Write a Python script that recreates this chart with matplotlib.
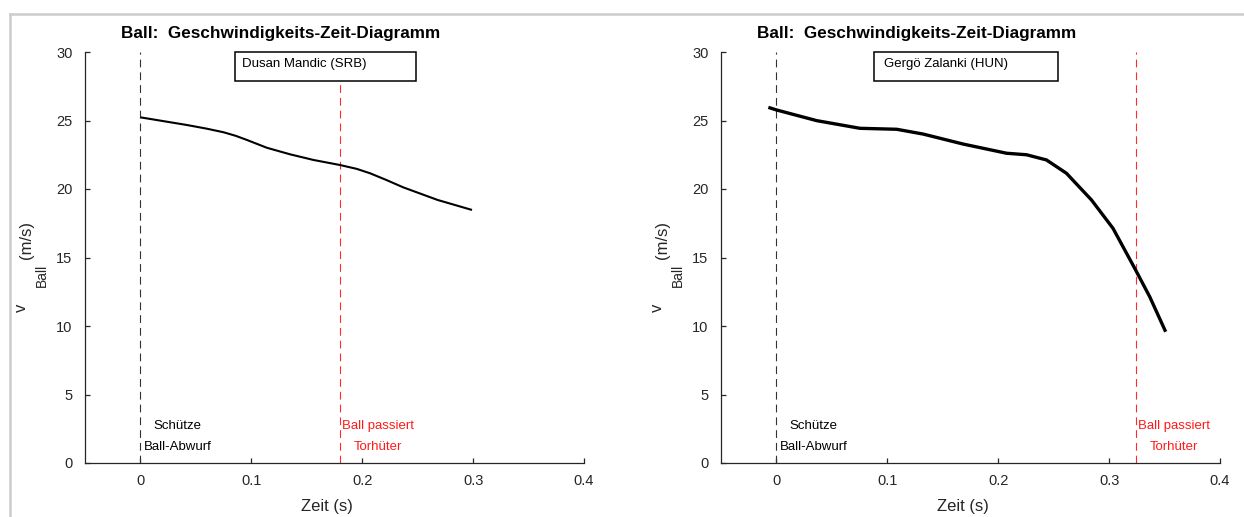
import matplotlib
matplotlib.use("Agg")
import matplotlib.pyplot as plt
from matplotlib.patches import Rectangle
from matplotlib.lines import Line2D
from matplotlib.transforms import offset_copy

plt.rcParams["font.family"] = ["Liberation Sans", "DejaVu Sans"]

# ---- data -------------------------------------------------------------
title = "Ball:  Geschwindigkeits-Zeit-Diagramm"
players = ["Dusan Mandic (SRB)", "Gergö Zalanki (HUN)"]

t_mandic = [0.0, 0.021, 0.042, 0.060, 0.075, 0.086, 0.096, 0.114, 0.135, 0.156,
            0.180, 0.195, 0.207, 0.222, 0.237, 0.268, 0.299]
v_mandic = [25.23, 24.95, 24.67, 24.40, 24.14, 23.88, 23.58, 23.01, 22.53, 22.12,
            21.75, 21.47, 21.15, 20.65, 20.12, 19.20, 18.47]

t_zalanki = [-0.0073, 0.0, 0.0363, 0.0753, 0.1084, 0.1323, 0.1684, 0.2075,
             0.2255, 0.2435, 0.2615, 0.2841, 0.3035, 0.3231, 0.3366, 0.3510]
v_zalanki = [25.96, 25.77, 24.99, 24.43, 24.36, 24.01, 23.28, 22.61,
             22.50, 22.12, 21.15, 19.20, 17.13, 14.21, 12.14, 9.58]

# moment the ball passes the goalkeeper (s)
t_pass = [0.1803, 0.3238]
t_release = 0.0

x_ticks = [0, 0.1, 0.2, 0.3, 0.4]
x_ticklabels = ["0", "0.1", "0.2", "0.3", "0.4"]
y_ticks = [0, 5, 10, 15, 20, 25, 30]
y_ticklabels = ["0", "5", "10", "15", "20", "25", "30"]

series = [(t_mandic, v_mandic, 1.5), (t_zalanki, v_zalanki, 2.4)]

# ---- figure -----------------------------------------------------------
W, H = 1244, 517
fig = plt.figure(figsize=(W / 100, H / 100), dpi=100)

# light frame along top and left edges
fig.add_artist(Line2D([10 / W, 1.0], [1 - 14 / H, 1 - 14 / H],
                      transform=fig.transFigure, color="#cccccc", lw=1.8))
fig.add_artist(Line2D([10 / W, 10 / W], [0.0, 1 - 14 / H],
                      transform=fig.transFigure, color="#cccccc", lw=1.8))

axes_left_px = [85, 721]
ax_w, ax_h = 499, 411
ax_bottom_px = 463
spine_col = "#262626"

boxes = [(0.0856, 0.2486, 0.0919), (0.0879, 0.2543, 0.0969)]

for i, left_px in enumerate(axes_left_px):
    ax = fig.add_axes([left_px / W, (H - ax_bottom_px) / H, ax_w / W, ax_h / H])
    t, v, lw = series[i]

    ax.set_xlim(-0.05, 0.4)
    ax.set_ylim(0, 30)
    for s in ("top", "right"):
        ax.spines[s].set_visible(False)
    for s in ("left", "bottom"):
        ax.spines[s].set_color(spine_col)
        ax.spines[s].set_linewidth(0.9)

    ax.set_xticks(x_ticks)
    ax.set_xticklabels(x_ticklabels)
    ax.set_yticks(y_ticks)
    ax.set_yticklabels(y_ticklabels)
    ax.tick_params(direction="in", length=3.5, width=0.9, color=spine_col,
                   labelcolor=spine_col, labelsize=10.5)
    ax.tick_params(axis="y", pad=9)
    ax.tick_params(axis="x", pad=8)

    # event markers
    ax.plot([t_release, t_release], [0, 30], color="#333333", lw=0.8,
            ls=(0, (7, 4.5)), zorder=2)
    ax.plot([t_pass[i], t_pass[i]], [0, 30], color="#ff2a2a", lw=0.8,
            ls=(0, (7, 4.5)), zorder=2)

    # velocity curve
    ax.plot(t, v, color="black", lw=lw, solid_capstyle="butt",
            solid_joinstyle="round", zorder=3)

    # player box
    x0, x1, xt = boxes[i]
    ax.add_patch(Rectangle((x0, 27.88), x1 - x0, 2.12, facecolor="white",
                           edgecolor="black", lw=1.1, zorder=4, clip_on=False))
    ax.text(xt, 29.15, players[i], fontsize=9.5, ha="left", va="center",
            zorder=5)

    # event labels
    ax.annotate("Schütze\nBall-Abwurf", xy=(t_release, 0),
                xytext=(3, 13), textcoords="offset pixels",
                ha="left", va="baseline", multialignment="center",
                fontsize=9.5, linespacing=2.0, color="black")
    ax.annotate("Ball passiert\nTorhüter", xy=(t_pass[i], 0),
                xytext=(2, 13), textcoords="offset pixels",
                ha="left", va="baseline", multialignment="center",
                fontsize=9.5, linespacing=2.0, color="#ff1a1a")

    # title
    ax.text(0.392, 1.034, title, transform=ax.transAxes, ha="center",
            va="baseline", fontsize=12.3, fontweight="bold")

    # axis labels
    ax.set_xlabel("Zeit (s)", fontsize=12, color=spine_col)
    ax.xaxis.set_label_coords(0.5 - 8 / ax_w, -48 / ax_h)
    ax.xaxis.label.set_va("baseline")

    for txt, dx, dy, size in (("v", -59, 155, 12), ("Ball", -39, 188, 10),
                              ("(m/s)", -54, 223, 12)):
        tr = offset_copy(ax.transAxes, fig=fig, x=dx, y=dy, units="dots")
        ax.text(0, 0, txt, transform=tr, rotation=90, rotation_mode="anchor",
                ha="center", va="baseline", fontsize=size, color=spine_col)

fig.savefig("out.png", dpi=100)
